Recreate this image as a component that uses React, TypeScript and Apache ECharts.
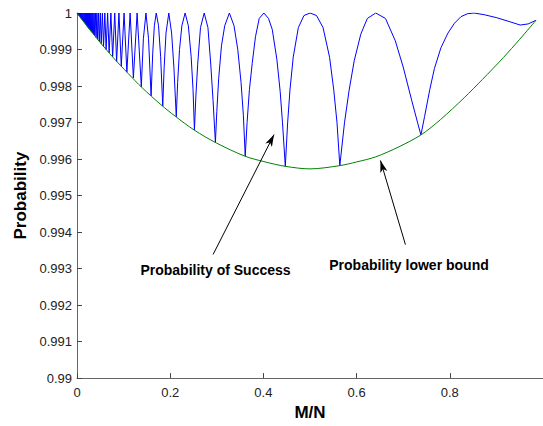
import React, { useEffect, useRef } from "react";
import * as echarts from "echarts";

const FONT = '"Liberation Sans", Arial, Helvetica, sans-serif';

const xTicks = [0, 0.2, 0.4, 0.6, 0.8];
const yTicks = [0.99, 0.991, 0.992, 0.993, 0.994, 0.995, 0.996, 0.997, 0.998, 0.999, 1];

// Probability of success: dense oscillations near zero
const successNearZero: [number, number][] = [
  [0, 1], [0.001, 0.99998], [0.0015, 1], [0.002, 0.99996], [0.003, 1], [0.004, 0.99993],
  [0.005, 1], [0.006, 0.9999], [0.007, 1], [0.008, 0.99986], [0.009, 1], [0.01, 0.99983],
  [0.011, 1], [0.012, 0.9998], [0.013, 1], [0.014, 0.99977], [0.015, 1], [0.016, 0.99974],
  [0.017, 1], [0.018, 0.99971], [0.0187, 1], [0.0194, 0.99968], [0.02, 1], [0.0205, 0.99966],
  [0.021, 1], [0.0216, 0.99964], [0.0222, 1], [0.0228, 0.99962], [0.0234, 1], [0.0241, 0.9996],
  [0.0248, 1], [0.0256, 0.99957], [0.0264, 1], [0.0272, 0.99955], [0.028, 1], [0.029, 0.99952],
  [0.03, 1], [0.0309, 0.99949], [0.032, 1], [0.0331, 0.99946], [0.0342, 1], [0.0354, 0.99942],
  [0.0367, 1], [0.038, 0.99938], [0.0395, 1],
];

// Probability of success: narrow spikes
const successSpikes: [number, number][] = [
  [0.041, 0.99933], [0.0426, 1], [0.0443, 0.99928], [0.046, 1], [0.048, 0.99922], [0.05, 1],
  [0.052, 0.99916], [0.0545, 1], [0.057, 0.99908], [0.0597, 1], [0.0625, 0.999], [0.0657, 1],
  [0.069, 0.99891], [0.0727, 1], [0.0765, 0.9988], [0.081, 1], [0.085, 0.99867], [0.09, 1],
  [0.095, 0.99854], [0.101, 1], [0.107, 0.99838], [0.114, 1], [0.121, 0.99822], [0.129, 1],
  [0.138, 0.99798], [0.1425, 0.9993], [0.148, 1], [0.1535, 0.9993], [0.159, 0.99773],
  [0.1625, 0.9989], [0.166, 0.99965], [0.17, 1], [0.175, 0.99965], [0.1795, 0.9988],
];

// Probability of success: wide arcs
const successArcs: [number, number][] = [
  [0.184, 0.99745], [0.187, 0.9985], [0.191, 0.99945], [0.197, 1], [0.203, 0.99945], [0.208, 0.9985], [0.213, 0.99716],
  [0.216, 0.9981], [0.22, 0.999], [0.225, 0.99965], [0.232, 1], [0.239, 0.99965], [0.245, 0.9988], [0.249, 0.9979], [0.252, 0.99679],
  [0.255, 0.9977], [0.259, 0.9986], [0.265, 0.9996], [0.273, 1], [0.281, 0.9996], [0.287, 0.9986], [0.292, 0.9976], [0.297, 0.99645],
  [0.3, 0.9973], [0.304, 0.9982], [0.31, 0.9991], [0.317, 0.99965], [0.327, 1], [0.337, 0.99965], [0.345, 0.999], [0.352, 0.9981], [0.357, 0.9972], [0.361, 0.99608],
  [0.365, 0.997], [0.37, 0.9979], [0.376, 0.99862], [0.383, 0.99935], [0.391, 0.99985], [0.401, 1], [0.411, 0.99985], [0.419, 0.99955], [0.429, 0.99872], [0.436, 0.99785], [0.441, 0.99699], [0.447, 0.9958],
  [0.452, 0.99699], [0.457, 0.99789], [0.464, 0.99879], [0.475, 0.9996], [0.487, 0.99993], [0.5, 1], [0.514, 0.99993], [0.528, 0.9996], [0.542, 0.99879], [0.551, 0.99789], [0.558, 0.99699], [0.564, 0.99582],
  [0.574, 0.99699], [0.584, 0.99789], [0.595, 0.9987], [0.609, 0.99942], [0.623, 0.99985], [0.641, 1], [0.662, 0.99985], [0.683, 0.99924], [0.7, 0.99852], [0.718, 0.99762], [0.731, 0.99699], [0.738, 0.99666],
  [0.746, 0.99717], [0.757, 0.9979], [0.767, 0.99848], [0.781, 0.99905], [0.796, 0.99945], [0.81, 0.99972], [0.824, 0.9999], [0.838, 0.99998], [0.852, 1],
  [0.875, 0.99995], [0.901, 0.99987], [0.929, 0.99976], [0.951, 0.99967], [0.968, 0.9997], [0.985, 0.9998],
];

// Probability lower bound
const lowerBound: [number, number][] = [
  [0, 1], [0.01, 0.99983], [0.027, 0.99955], [0.05, 0.99919], [0.077, 0.99879], [0.11, 0.99834],
  [0.14, 0.99795], [0.18, 0.99749], [0.211, 0.99717], [0.252, 0.99679], [0.299, 0.99644],
  [0.36, 0.99608], [0.401, 0.99593], [0.447, 0.9958], [0.5, 0.99573], [0.564, 0.99582],
  [0.6, 0.99592], [0.641, 0.99606], [0.69, 0.99633], [0.738, 0.99666], [0.78, 0.99708],
  [0.831, 0.99768], [0.87, 0.99818], [0.915, 0.99878], [0.95, 0.99928], [0.985, 0.9998],
];

const fmt = (v: number) => String(Number(v.toFixed(3)));

export default function App() {
  const ref = useRef<HTMLDivElement>(null);
  useEffect(() => {
    document.body.style.margin = "0";
    const chart = echarts.init(ref.current!, null, { renderer: "svg" });
    const tickLabel = { fontFamily: FONT, fontSize: 13, color: "#222" };
    const nameStyle = { fontFamily: FONT, fontSize: 17, fontWeight: "bold", color: "#000" };
    const annoStyle = { fontFamily: FONT, fontSize: 14, fontWeight: "bold", fill: "#000", align: "center", verticalAlign: "middle" };
    chart.setOption({
      animation: false,
      backgroundColor: "#ffffff",
      grid: { left: 77, right: -6.5, top: 13, bottom: 41 },
      xAxis: {
        type: "value", min: 0, max: 1, interval: 0.2,
        name: "M/N", nameLocation: "middle", nameGap: 23, nameTextStyle: nameStyle,
        axisLine: { show: true, onZero: false, lineStyle: { color: "#666", width: 1 } },
        axisTick: { show: true, inside: true, length: 5, lineStyle: { color: "#444" }, customValues: xTicks },
        axisLabel: { ...tickLabel, margin: 8, customValues: xTicks, formatter: fmt },
        splitLine: { show: false },
      },
      yAxis: {
        type: "value", min: 0.99, max: 1, interval: 0.001,
        name: "Probability", nameLocation: "middle", nameGap: 45, nameTextStyle: nameStyle,
        axisLine: { show: true, lineStyle: { color: "#666", width: 1 } },
        axisTick: { show: true, inside: true, length: 5, lineStyle: { color: "#444" }, customValues: yTicks },
        axisLabel: { ...tickLabel, margin: 5, customValues: yTicks, formatter: fmt },
        splitLine: { show: false },
      },
      series: [
        {
          name: "Probability of Success",
          type: "line",
          data: [...successNearZero, ...successSpikes, ...successArcs],
          symbol: "none",
          clip: true,
          lineStyle: { color: "#0000ff", width: 1 },
          silent: true,
        },
        {
          name: "Probability lower bound",
          type: "line",
          data: lowerBound,
          symbol: "none",
          smooth: 0.3,
          clip: true,
          lineStyle: { color: "#008000", width: 1 },
          silent: true,
          markLine: {
            silent: true,
            symbol: ["none", "arrow"],
            label: { show: false },
            lineStyle: { color: "#000", width: 1, type: "solid" },
            emphasis: { disabled: true },
            data: [
              [{ coord: [0.2921, 0.993387] }, { coord: [0.4229, 0.996671], symbolSize: [5.5, 12] }],
              [{ coord: [0.7048, 0.993656] }, { coord: [0.6512, 0.995961], symbolSize: [5.5, 12] }],
            ],
          },
        },
      ],
      graphic: [
        { type: "text", x: 215.5, y: 270, silent: true, style: { text: "Probability of Success", ...annoStyle } },
        { type: "text", x: 409, y: 265, silent: true, style: { text: "Probability lower bound", ...annoStyle } },
      ],
    });
    return () => chart.dispose();
  }, []);
  return <div ref={ref} style={{ width: 543, height: 426 }} />;
}
